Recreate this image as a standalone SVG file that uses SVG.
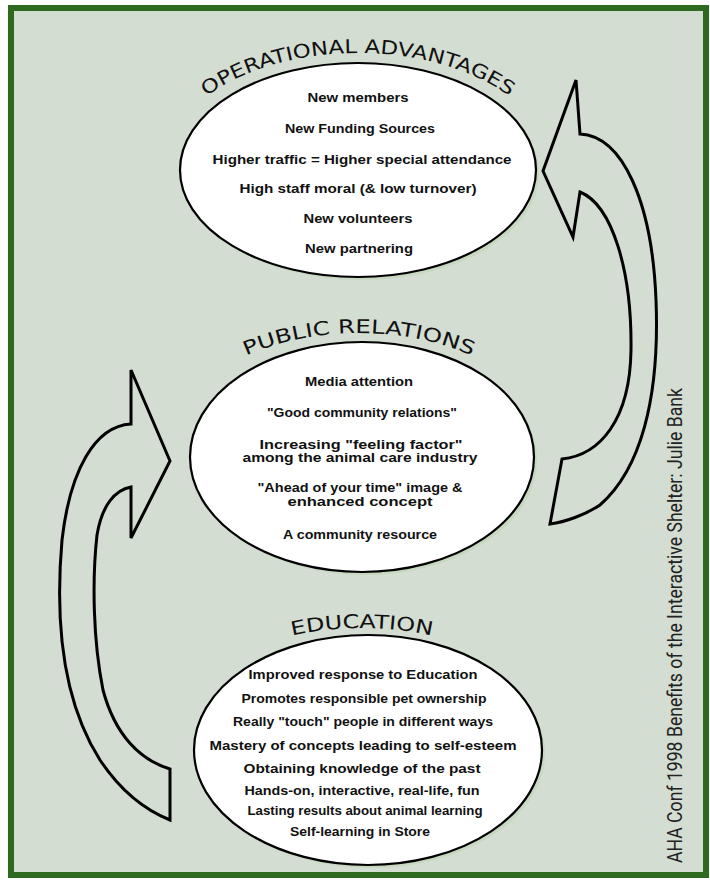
<svg xmlns="http://www.w3.org/2000/svg" width="710" height="881" viewBox="0 0 710 881">
<style>
  .frame { fill: #d3ddd1; stroke: #2d6a1f; stroke-width: 6; }
  .oval { fill: #ffffff; stroke: #000000; stroke-width: 2.2; }
  .shadow { fill: #c6d8c0; }
  .title { font-family: "DejaVu Sans", "Liberation Sans", sans-serif; font-size: 19px; fill: #111111; }
  .item { font-family: "Liberation Sans", Arial, sans-serif; font-weight: bold; font-size: 12px; fill: #111111; text-anchor: middle; }
  .arrow { fill: none; stroke: #000000; stroke-width: 3; stroke-linejoin: miter; }
  .credit { font-family: "Roboto", "Liberation Sans", sans-serif; font-size: 20px; fill: #222222; }
</style>
<defs>
  <path id="arcOA" d="M 163,170 A 195 117 0 0 1 553 170"/>
  <path id="arcPR" d="M 163,457 A 196 124 0 0 1 555 457"/>
  <path id="arcED" d="M 162,750 A 200 122 0 0 1 562 750"/>
</defs>
<rect x="0" y="0" width="710" height="881" fill="#ffffff"/>
<rect class="frame" x="11" y="8" width="695" height="867"/>

<g id="connectors">
  <path id="arrow-right" class="arrow" d="M 576,80 L 580,134 C 622,136 652,200 656,300 C 660,400 640,470 600,505 C 585,515 565,522 550,524 L 562,459 C 600,455 630,420 631,350 C 632,270 612,205 580,192 L 573,237 L 543,171 Z"/>
  <path id="arrow-left" class="arrow" d="M 170,461 L 131,370 L 131,424 C 95,426 70,470 62,540 C 55,620 62,700 100,760 C 120,790 145,810 170,820 L 170,769 C 140,760 115,735 103,690 C 93,640 92,580 97,535 C 102,505 115,490 131,487 L 131,538 Z"/>
</g>

<g id="operational-advantages">
  <ellipse class="shadow" cx="361" cy="173" rx="178" ry="107"/>
  <ellipse class="oval" cx="358" cy="170" rx="178" ry="107"/>
  <text class="title"><textPath href="#arcOA" startOffset="50%" text-anchor="middle" textLength="320" lengthAdjust="spacingAndGlyphs">OPERATIONAL ADVANTAGES</textPath></text>
  <text class="item" x="358" y="102" textLength="101" lengthAdjust="spacingAndGlyphs">New members</text>
  <text class="item" x="360" y="133" textLength="150" lengthAdjust="spacingAndGlyphs">New Funding Sources</text>
  <text class="item" x="362" y="164" textLength="299" lengthAdjust="spacingAndGlyphs">Higher traffic = Higher special attendance</text>
  <text class="item" x="358" y="193" textLength="237" lengthAdjust="spacingAndGlyphs">High staff moral (&amp; low turnover)</text>
  <text class="item" x="358" y="223" textLength="109" lengthAdjust="spacingAndGlyphs">New volunteers</text>
  <text class="item" x="359" y="253" textLength="108" lengthAdjust="spacingAndGlyphs">New partnering</text>
</g>

<g id="public-relations">
  <ellipse class="shadow" cx="365" cy="460" rx="172" ry="115"/>
  <ellipse class="oval" cx="362" cy="457" rx="172" ry="115"/>
  <text class="title"><textPath href="#arcPR" startOffset="50%" text-anchor="middle" textLength="232" lengthAdjust="spacingAndGlyphs">PUBLIC  RELATIONS</textPath></text>
  <text class="item" x="359" y="386" textLength="108" lengthAdjust="spacingAndGlyphs">Media attention</text>
  <text class="item" x="362" y="417" textLength="190" lengthAdjust="spacingAndGlyphs">"Good community relations"</text>
  <text class="item" x="361" y="449" textLength="203" lengthAdjust="spacingAndGlyphs">Increasing "feeling factor"</text>
  <text class="item" x="360" y="462" textLength="235" lengthAdjust="spacingAndGlyphs">among the animal care industry</text>
  <text class="item" x="360" y="492" textLength="205" lengthAdjust="spacingAndGlyphs">"Ahead of your time" image &amp;</text>
  <text class="item" x="360" y="506" textLength="145" lengthAdjust="spacingAndGlyphs">enhanced concept</text>
  <text class="item" x="360" y="539" textLength="154" lengthAdjust="spacingAndGlyphs">A community resource</text>
</g>

<g id="education">
  <ellipse class="shadow" cx="371" cy="753" rx="174" ry="115"/>
  <ellipse class="oval" cx="368" cy="750" rx="174" ry="115"/>
  <text class="title"><textPath href="#arcED" startOffset="50%" text-anchor="middle" textLength="141" lengthAdjust="spacingAndGlyphs">EDUCATION</textPath></text>
  <text class="item" x="363" y="679" textLength="229" lengthAdjust="spacingAndGlyphs">Improved response to Education</text>
  <text class="item" x="364" y="703" textLength="245" lengthAdjust="spacingAndGlyphs">Promotes responsible pet ownership</text>
  <text class="item" x="363" y="726" textLength="260" lengthAdjust="spacingAndGlyphs">Really "touch" people in different ways</text>
  <text class="item" x="363" y="750" textLength="307" lengthAdjust="spacingAndGlyphs">Mastery of concepts leading to self-esteem</text>
  <text class="item" x="362" y="773" textLength="237" lengthAdjust="spacingAndGlyphs">Obtaining knowledge of the past</text>
  <text class="item" x="362" y="795" textLength="235" lengthAdjust="spacingAndGlyphs">Hands-on, interactive, real-life, fun</text>
  <text class="item" x="365" y="815" textLength="235" lengthAdjust="spacingAndGlyphs">Lasting results about animal learning</text>
  <text class="item" x="360" y="836" textLength="140" lengthAdjust="spacingAndGlyphs">Self-learning in Store</text>
</g>

<text class="credit" transform="translate(682,863) rotate(-90)" textLength="475" lengthAdjust="spacingAndGlyphs">AHA Conf 1998 Benefits of the Interactive Shelter:  Julie Bank</text>
</svg>
